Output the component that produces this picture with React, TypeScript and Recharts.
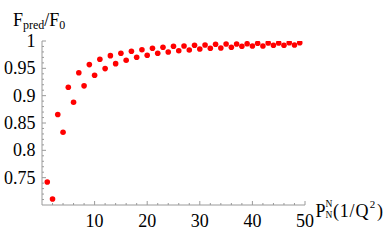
import React from 'react';
import { ScatterChart, Scatter, XAxis, YAxis, Label } from 'recharts';

const xValues = [
  1, 2, 3, 4, 5, 6, 7, 8, 9, 10, 11, 12, 13, 14, 15, 16, 17, 18, 19, 20, 21, 22, 23, 24, 25,
  26, 27, 28, 29, 30, 31, 32, 33, 34, 35, 36, 37, 38, 39, 40, 41, 42, 43, 44, 45, 46, 47, 48, 49,
];
const yValues = [
  0.742, 0.711, 0.8655, 0.833, 0.9155, 0.888, 0.942, 0.918, 0.9568, 0.9374,
  0.9666, 0.9495, 0.9732, 0.9586, 0.9776, 0.9648, 0.9812, 0.9703, 0.9841, 0.9739,
  0.9867, 0.9776, 0.9885, 0.98, 0.9903, 0.9823, 0.9909, 0.9836, 0.9922, 0.9854,
  0.9927, 0.9867, 0.994, 0.9872, 0.9945, 0.9885, 0.9945, 0.9903, 0.995, 0.9909,
  0.9958, 0.9909, 0.9964, 0.9922, 0.9964, 0.9922, 0.9969, 0.9927, 0.9969,
];

const xMajorTicks = [10, 20, 30, 40, 50];
const xMinorTicks = [2, 4, 6, 8, 12, 14, 16, 18, 22, 24, 26, 28, 32, 34, 36, 38, 42, 44, 46, 48];
const xTickLabels = ['10', '20', '30', '40', '50'];
const yMajorTicks = [0.75, 0.8, 0.85, 0.9, 0.95, 1];
const yMinorTicks = [
  0.71, 0.72, 0.73, 0.74, 0.76, 0.77, 0.78, 0.79, 0.81, 0.82, 0.83, 0.84,
  0.86, 0.87, 0.88, 0.89, 0.91, 0.92, 0.93, 0.94, 0.96, 0.97, 0.98, 0.99,
];
const yTickLabels = ['0.75', '0.8', '0.85', '0.9', '0.95', '1'];

const data = xValues.map((x, i) => ({ x, y: yValues[i] }));

const FONT = '"Liberation Serif", "Times New Roman", serif';
const AXIS_COLOR = '#9a9a9a';
const FS = 18;

const majorIndex = (arr: number[], v: number) => arr.findIndex((t) => Math.abs(t - v) < 1e-6);

const XTick = (props: any) => {
  const { x, y, payload } = props;
  const idx = majorIndex(xMajorTicks, payload.value);
  const major = idx >= 0;
  return (
    <g>
      <line x1={x} y1={y} x2={x} y2={y - (major ? 4 : 2)} stroke={AXIS_COLOR} strokeWidth={1} />
      {major && (
        <text x={x} y={y + 21.5} textAnchor="middle" fontFamily={FONT} fontSize={FS} fill="#000">
          {xTickLabels[idx]}
        </text>
      )}
    </g>
  );
};

const YTick = (props: any) => {
  const { x, y, payload } = props;
  const idx = majorIndex(yMajorTicks, payload.value);
  const major = idx >= 0;
  return (
    <g>
      <line x1={x} y1={y} x2={x + (major ? 4 : 2)} y2={y} stroke={AXIS_COLOR} strokeWidth={1} />
      {major && (
        <text x={x - 6.5} y={y + 6} textAnchor="end" fontFamily={FONT} fontSize={FS} fill="#000">
          {yTickLabels[idx]}
        </text>
      )}
    </g>
  );
};

const YTitle = () => (
  <text x={13} y={26} fontFamily={FONT} fontSize={FS} fill="#000">
    F
    <tspan fontSize={12} dy={2.5}>pred</tspan>
    <tspan dy={-2.5}>/F</tspan>
    <tspan fontSize={12} dy={2.5}>0</tspan>
  </text>
);

const XTitle = () => (
  <g fontFamily={FONT} fill="#000">
    <text x={315.5} y={217} fontSize={FS}>P</text>
    <text x={325.5} y={206.5} fontSize={9.5}>N</text>
    <text x={325.5} y={218} fontSize={9.5}>N</text>
    <text x={333} y={217} fontSize={FS} letterSpacing={0.8}>
      (1/Q
      <tspan fontSize={11} dy={-9} dx={0.5}>2</tspan>
      <tspan dy={9} dx={1}>)</tspan>
    </text>
  </g>
);

const Dot = (props: any) => <circle cx={props.cx} cy={props.cy} r={2.8} fill="#ff0000" />;

export default function App() {
  return (
    <div style={{ position: 'absolute', left: 0, top: 0, width: 388, height: 240, background: '#fff' }}>
      <ScatterChart width={388} height={240} margin={{ top: 41, right: 83, bottom: 0, left: 0 }}>
        <XAxis
          type="number"
          dataKey="x"
          domain={[0, 50]}
          ticks={[...xMinorTicks, ...xMajorTicks].sort((a, b) => a - b)}
          interval={0}
          tickSize={0}
          tickMargin={0}
          tickLine={false}
          tick={<XTick />}
          axisLine={{ stroke: AXIS_COLOR, strokeWidth: 1 }}
          height={35}
          allowDataOverflow
        >
          <Label content={() => <XTitle />} />
        </XAxis>
        <YAxis
          type="number"
          dataKey="y"
          domain={[0.7, 1]}
          ticks={[...yMinorTicks, ...yMajorTicks].sort((a, b) => a - b)}
          interval={0}
          tickSize={0}
          tickMargin={0}
          tickLine={false}
          tick={<YTick />}
          axisLine={{ stroke: AXIS_COLOR, strokeWidth: 1 }}
          width={42}
          allowDataOverflow
        >
          <Label content={() => <YTitle />} />
        </YAxis>
        <Scatter data={data} shape={<Dot />} isAnimationActive={false} />
      </ScatterChart>
    </div>
  );
}
